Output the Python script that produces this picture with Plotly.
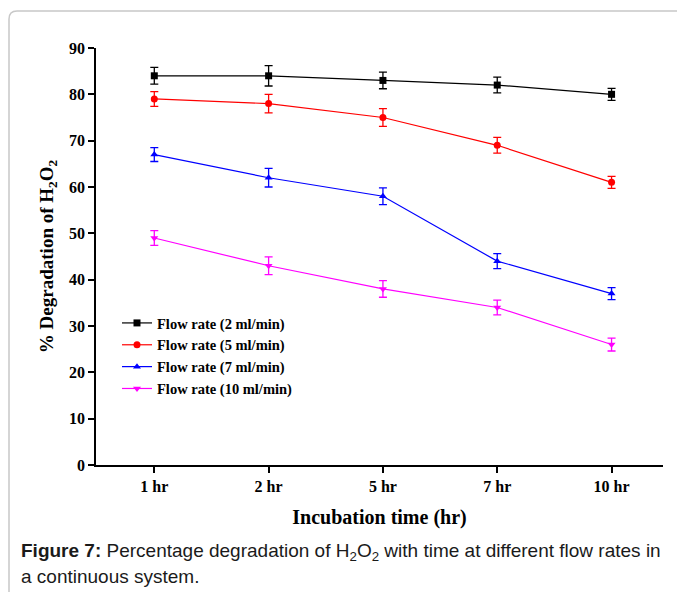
import plotly.graph_objects as go

categories = ["1 hr", "2 hr", "5 hr", "7 hr", "10 hr"]
series_names = ["Flow rate (2 ml/min)", "Flow rate (5 ml/min)",
                "Flow rate (7 ml/min)", "Flow rate (10 ml/min)"]
flow_2 = [84, 84, 83, 82, 80]
flow_5 = [79, 78, 75, 69, 61]
flow_7 = [67, 62, 58, 44, 37]
flow_10 = [49, 43, 38, 34, 26]
err_2 = [1.8, 2.2, 1.8, 1.7, 1.3]
err_5 = [1.6, 2.0, 1.9, 1.7, 1.3]
err_7 = [1.5, 2.0, 1.8, 1.6, 1.3]
err_10 = [1.6, 1.9, 1.8, 1.6, 1.4]
y_ticks = [0, 10, 20, 30, 40, 50, 60, 70, 80, 90]

colors = ["#000000", "#ff0000", "#0000ff", "#ff00ff"]
symbols = ["square", "circle", "triangle-up", "triangle-down"]
values = [flow_2, flow_5, flow_7, flow_10]
errors = [err_2, err_5, err_7, err_10]

serif = "Liberation Serif, Times New Roman, serif"

fig = go.Figure()
for name, vals, errs, col, sym in zip(series_names, values, errors, colors, symbols):
    fig.add_trace(go.Scatter(
        x=categories, y=vals, name=name, mode="lines+markers",
        line=dict(color=col, width=1.2),
        marker=dict(symbol=sym, size=7, color=col),
        error_y=dict(type="data", array=errs, visible=True, color=col,
                     thickness=1.3, width=4),
    ))

# plot area pixel geometry
L, R, T, B = 96, 14, 48, 127
W, H = 677, 592
pw, ph = W - L - R, H - T - B

def px(x):
    return (x - L) / pw

def py(y):
    return (H - B - y) / ph

# rounded frame
x0, y0, r = px(9), py(11), 8
x1 = px(700)
yb = py(620)
rx, ry = r / pw, r / ph
path = (f"M {x0},{yb} L {x0},{y0 - ry} Q {x0},{y0} {x0 + rx},{y0} L {x1},{y0}")
fig.add_shape(type="path", xref="paper", yref="paper", path=path,
              line=dict(color="#c8c8c8", width=1.5), layer="below")

cap_font = dict(family="Liberation Sans, Arial, sans-serif", size=19, color="#1a1a1a")
fig.add_annotation(
    xref="paper", yref="paper", x=px(19), y=py(552), xanchor="left", yanchor="middle",
    text="<b>Figure 7:</b> Percentage degradation of H<sub>2</sub>O<sub>2</sub> with time at different flow rates in",
    showarrow=False, align="left", font=cap_font)
fig.add_annotation(
    xref="paper", yref="paper", x=px(19), y=py(576), xanchor="left", yanchor="middle",
    text="a continuous system.", showarrow=False, align="left", font=cap_font)

fig.update_layout(
    width=W, height=H,
    margin=dict(l=L, r=R, t=T, b=B),
    paper_bgcolor="white", plot_bgcolor="white",
    font=dict(family=serif, color="black"),
    showlegend=True,
    legend=dict(x=px(117), y=py(307), xanchor="left", yanchor="top",
                bgcolor="rgba(0,0,0,0)", tracegroupgap=0,
                font=dict(family=serif, size=14.5, color="black", weight="bold"),
                itemwidth=30),
    xaxis=dict(
        type="category", range=[-0.51, 4.45],
        showline=True, linecolor="black", linewidth=1.5,
        ticks="outside", ticklen=6, tickwidth=1.5, tickcolor="black",
        showgrid=False, zeroline=False,
        tickfont=dict(family=serif, size=16, color="black", weight="bold"),
        title=dict(text="Incubation time (hr)", standoff=16,
                   font=dict(family=serif, size=20, color="black", weight="bold")),
    ),
    yaxis=dict(
        range=[0, 90], tickvals=y_ticks,
        showline=True, linecolor="black", linewidth=1.5,
        ticks="outside", ticklen=6, tickwidth=1.5, tickcolor="black",
        showgrid=False, zeroline=False,
        tickfont=dict(family=serif, size=16, color="black", weight="bold"),
        title=dict(text="% Degradation of H<sub>2</sub>O<sub>2</sub>", standoff=10,
                   font=dict(family=serif, size=19, color="black", weight="bold")),
    ),
)

fig.write_html("out.html")
